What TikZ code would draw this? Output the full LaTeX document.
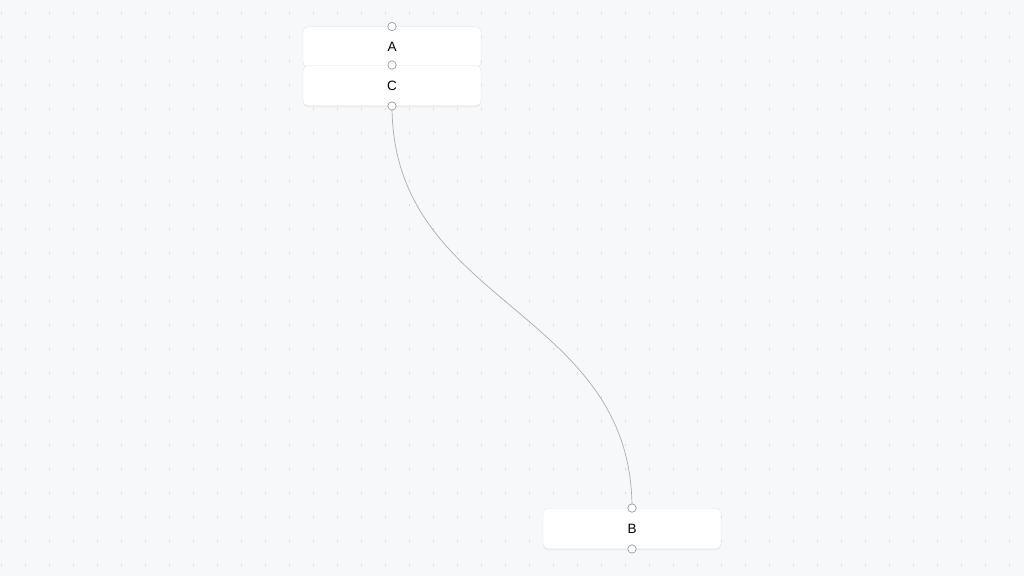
\documentclass[tikz,border=0pt]{standalone}
\usepackage{fontspec}
\setmainfont{Liberation Sans}
\usetikzlibrary{shadows}

\definecolor{canvas}{HTML}{F7F8FA}
\definecolor{griddot}{HTML}{B9BDC4}
\definecolor{nodeline}{HTML}{E2E4E8}
\definecolor{handleline}{HTML}{9A9A9A}
\definecolor{edgeline}{HTML}{ACACB2}

\tikzset{
    flownode/.style={draw=nodeline, fill=white, rounded corners=5pt,
        minimum width=178pt, minimum height=40.5pt, inner sep=0pt,
        font=\fontsize{13.5}{15}\selectfont,
        drop shadow={opacity=0.1, shadow xshift=0pt, shadow yshift=-1.5pt}},
    handle/.style={draw=handleline, fill=white, line width=0.7pt},
}

\begin{document}
\begin{tikzpicture}[x=1pt, y=-1pt]

        \fill[canvas] (0,0) rectangle (1024,576);
        \useasboundingbox (0,0) rectangle (1024,576);
        \foreach \i in {0,...,42}
            \foreach \j in {0,...,23}
                \fill[griddot] (1.5+24*\i, 13+24*\j) circle (0.55pt);

        \node[flownode] (a) at (392,47) {A};
        \node[flownode] (c) at (392,85.5) {C};
        \node[flownode] (b) at (632,528.5) {B};

        \draw[edgeline, line width=0.7pt] (c.south) .. controls ([yshift=-200pt]c.south) and ([yshift=200pt]b.north) .. (b.north);

        \filldraw[handle] (a.north) circle (4.2pt);
        \filldraw[handle] (c.north) circle (4.2pt);
        \filldraw[handle] (c.south) circle (4.2pt);
        \filldraw[handle] (b.north) circle (4.2pt);
        \filldraw[handle] (b.south) circle (4.2pt);

    \end{tikzpicture}
\end{document}
